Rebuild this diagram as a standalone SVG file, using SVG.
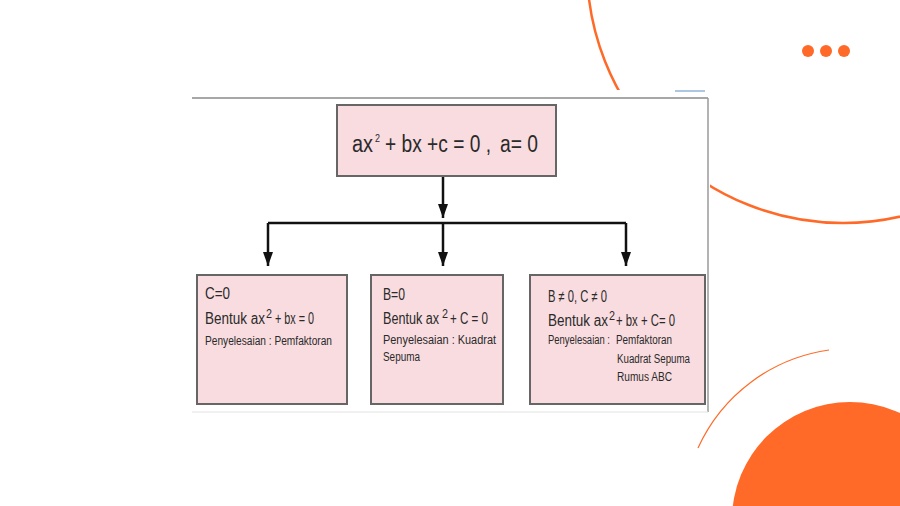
<svg xmlns="http://www.w3.org/2000/svg" width="900" height="506" viewBox="0 0 900 506">
<style>
.box{fill:#f9dcdf;stroke:#666;stroke-width:2}
.t{font-family:"Liberation Sans",Arial,sans-serif;fill:#2a2a2a}
.big{font-size:23px}
.m{font-size:16px}
.s{font-size:12px}
.sup{font-size:12px}
.conn{stroke:#111;stroke-width:2.5;fill:none}
.deco{fill:none;stroke:#ff6a28}
</style>
<defs>
<marker id="ah" markerUnits="userSpaceOnUse" markerWidth="14" markerHeight="10" viewBox="0 0 14 10" refX="14" refY="5" orient="auto">
<path d="M0,0 L14,5 L0,10 z" fill="#111"/>
</marker>
</defs>
<rect width="900" height="506" fill="#ffffff"/>
<g id="decoration">
<circle cx="843" cy="-33" r="256" class="deco" stroke-width="2.5"/>
<circle cx="808" cy="51" r="6" fill="#ff6a28"/>
<circle cx="826" cy="51" r="6" fill="#ff6a28"/>
<circle cx="844" cy="51" r="6" fill="#ff6a28"/>
<circle cx="850" cy="520" r="118" fill="#ff6a28"/>
<path d="M698,448 A170,170 0 0 1 829,350" class="deco" stroke-width="1.2"/>
</g>
<g id="frame">
<rect x="185" y="90" width="525" height="325" fill="#ffffff"/>
<line x1="192" y1="98" x2="708" y2="98" stroke="#8a8a8a" stroke-width="1.5"/>
<line x1="708" y1="98" x2="708" y2="412" stroke="#9a9a9a" stroke-width="1.5"/>
<line x1="192" y1="412" x2="708" y2="412" stroke="#e2e2e2" stroke-width="1"/>
<line x1="675" y1="91" x2="705" y2="91" stroke="#8fb4d8" stroke-width="1.5"/>
</g>
<g id="connectors">
<line x1="443" y1="176" x2="443" y2="218" class="conn" marker-end="url(#ah)"/>
<line x1="268" y1="223" x2="626" y2="223" class="conn"/>
<line x1="268" y1="223" x2="268" y2="266" class="conn" marker-end="url(#ah)"/>
<line x1="443" y1="223" x2="443" y2="266" class="conn" marker-end="url(#ah)"/>
<line x1="626" y1="223" x2="626" y2="266" class="conn" marker-end="url(#ah)"/>
</g>
<g id="root">
<rect x="337" y="105" width="219" height="71" class="box"/>
<text class="t big" x="352" y="152" textLength="21" lengthAdjust="spacingAndGlyphs">ax</text>
<text class="t" font-size="11" x="375" y="142" textLength="5" lengthAdjust="spacingAndGlyphs">2</text>
<text class="t big" x="385" y="152" textLength="106" lengthAdjust="spacingAndGlyphs">+ bx +c = 0 ,</text>
<text class="t big" x="500" y="152" textLength="38" lengthAdjust="spacingAndGlyphs">a= 0</text>
</g>
<g id="case-c0">
<rect x="197" y="275" width="150" height="129" class="box"/>
<text class="t m" x="205" y="299" textLength="25" lengthAdjust="spacingAndGlyphs">C=0</text>
<text class="t m" x="205" y="324" textLength="60" lengthAdjust="spacingAndGlyphs">Bentuk ax</text>
<text class="t sup" x="266" y="318" textLength="6" lengthAdjust="spacingAndGlyphs">2</text>
<text class="t m" x="275" y="324" textLength="39" lengthAdjust="spacingAndGlyphs">+ bx = 0</text>
<text class="t s" x="205" y="345" textLength="127" lengthAdjust="spacingAndGlyphs">Penyelesaian : Pemfaktoran</text>
</g>
<g id="case-b0">
<rect x="371" y="275" width="132" height="129" class="box"/>
<text class="t m" x="383" y="300" textLength="22" lengthAdjust="spacingAndGlyphs">B=0</text>
<text class="t m" x="383" y="324" textLength="56" lengthAdjust="spacingAndGlyphs">Bentuk ax</text>
<text class="t sup" x="442" y="318" textLength="6" lengthAdjust="spacingAndGlyphs">2</text>
<text class="t m" x="450" y="324" textLength="38" lengthAdjust="spacingAndGlyphs">+ C = 0</text>
<text class="t s" x="383" y="344" textLength="113" lengthAdjust="spacingAndGlyphs">Penyelesaian : Kuadrat</text>
<text class="t s" x="383" y="361" textLength="37" lengthAdjust="spacingAndGlyphs">Sepuma</text>
</g>
<g id="case-general">
<rect x="530" y="275" width="175" height="129" class="box"/>
<text class="t m" x="548" y="302" textLength="59" lengthAdjust="spacingAndGlyphs">B ≠ 0, C ≠ 0</text>
<text class="t m" x="548" y="326" textLength="60" lengthAdjust="spacingAndGlyphs">Bentuk ax</text>
<text class="t sup" x="609" y="320" textLength="6" lengthAdjust="spacingAndGlyphs">2</text>
<text class="t m" x="616" y="326" textLength="59" lengthAdjust="spacingAndGlyphs">+ bx + C= 0</text>
<text class="t s" x="548" y="344" textLength="62" lengthAdjust="spacingAndGlyphs">Penyelesaian :</text>
<text class="t s" x="616" y="344" textLength="56" lengthAdjust="spacingAndGlyphs">Pemfaktoran</text>
<text class="t s" x="617" y="363" textLength="73" lengthAdjust="spacingAndGlyphs">Kuadrat Sepuma</text>
<text class="t s" x="617" y="381" textLength="55" lengthAdjust="spacingAndGlyphs">Rumus ABC</text>
</g>
</svg>
